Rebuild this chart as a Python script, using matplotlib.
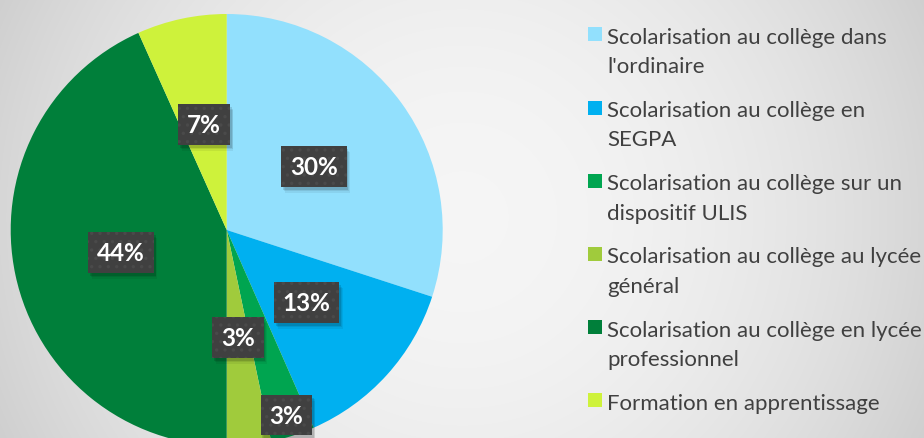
import numpy as np
import matplotlib
matplotlib.use("Agg")
import matplotlib.pyplot as plt
from matplotlib.patches import Rectangle
from matplotlib.transforms import IdentityTransform

categories = [
    "Scolarisation au collège dans\nl'ordinaire",
    "Scolarisation au collège en\nSEGPA",
    "Scolarisation au collège sur un\ndispositif ULIS",
    "Scolarisation au collège au lycée\ngénéral",
    "Scolarisation au collège en lycée\nprofessionnel",
    "Formation en apprentissage",
]
shares = [30.0, 13.4, 3.3, 3.3, 43.3, 6.7]
pct_labels = ["30%", "13%", "3%", "3%", "44%", "7%"]

colors = ["#92E0FD", "#00B0F0", "#00A550", "#A0CB3C", "#007F3A", "#CEF23B"]

plt.rcParams["hatch.linewidth"] = 1.2
W, H = 924, 439
fig = plt.figure(figsize=(W / 100, H / 100), dpi=100)

# radial grey background
bg = fig.add_axes([0, 0, 1, 1])
yy, xx = np.mgrid[0:H, 0:W]
r = np.sqrt((xx - 462) ** 2 + (yy - 220) ** 2) / 462.0
g = 0.962 - (0.962 - 0.84) * np.clip(r, 0, 1.3) ** 2
bg.imshow(np.dstack([g, g, g]), extent=[0, W, 0, H], aspect="auto", origin="lower")
bg.set_axis_off()

# pie
cx, cy, R = 226.7, H - 231, 216
ax = fig.add_axes([(cx - R) / W, (cy - R) / H, 2 * R / W, 2 * R / H])
ax.patch.set_alpha(0)
wedges, _ = ax.pie(shares, colors=colors, startangle=90, counterclock=False,
                   radius=1, wedgeprops=dict(linewidth=0))
ax.set_xlim(-1, 1)
ax.set_ylim(-1, 1)
ax.set_aspect("equal")
ax.set_axis_off()

label_r = [0.5, 0.5, 0.9, 0.5, 0.5, 0.5]
texts = []
for w, lab, lr in zip(wedges, pct_labels, label_r):
    a = np.deg2rad((w.theta1 + w.theta2) / 2)
    x, y = lr * np.cos(a), lr * np.sin(a)
    t = ax.text(x, y, lab, ha="center", va="center", color="white", zorder=5,
                fontsize=17.5, fontweight="bold", family="Lato",
                bbox=dict(boxstyle="square,pad=0.36", fc="#404040", ec="#4a4a4a",
                          lw=0, hatch=".."))
    texts.append(t)

# soft drop shadows behind the label boxes
fig.canvas.draw()
for t in texts:
    bb = t.get_bbox_patch().get_window_extent()
    for d, al in [(6, 0.06), (4.5, 0.08), (3, 0.12)]:
        sh = Rectangle((bb.x0 + d * 0.6, bb.y0 - d), bb.width, bb.height,
                       transform=IdentityTransform(), fc="black", ec="none",
                       alpha=al, zorder=4, clip_on=False)
        ax.add_artist(sh)

# legend
leg_top = 35.3
step = 73.2
line_h = 29.5
for i, (cat, col) in enumerate(zip(categories, colors)):
    yc = leg_top + i * step
    fig.patches.append(Rectangle((588.3 / W, (H - yc - 7) / H), 14 / W, 14 / H,
                                 transform=fig.transFigure, fc=col, ec="none"))
    for k, line in enumerate(cat.split("\n")):
        fig.text(607 / W, (H - (yc + 8.5 + k * line_h)) / H, line, ha="left",
                 va="baseline", fontsize=16, family="Lato", color="#404040")

fig.savefig("out.png", dpi=100)
